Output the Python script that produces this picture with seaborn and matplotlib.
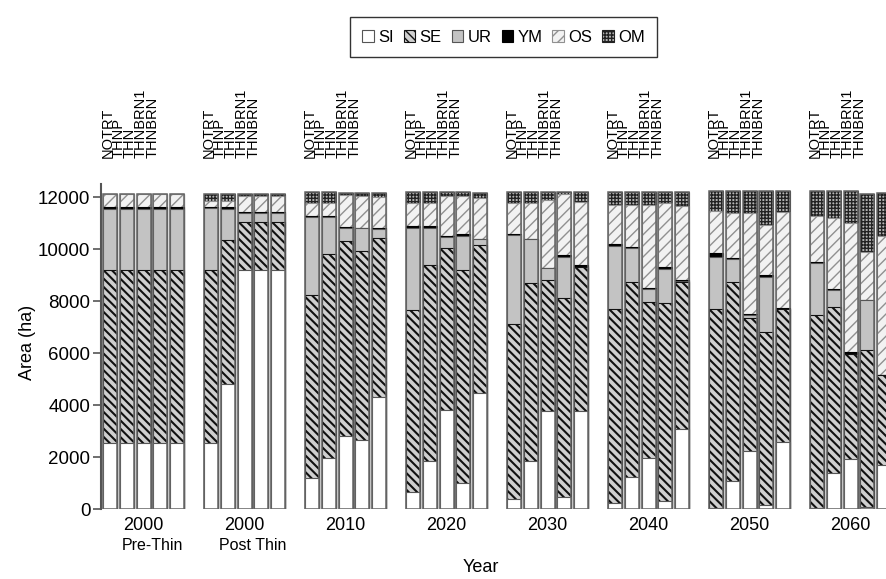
import numpy as np
import pandas as pd
import matplotlib
matplotlib.use('Agg')
import matplotlib.pyplot as plt
from matplotlib.patches import Patch
import seaborn as sns

# stand classes, bottom to top
classes = ['SI', 'SE', 'UR', 'YM', 'OS', 'OM']
treatments = ['NOTRT', 'THNP', 'THN', 'THNBRN1', 'THNBRN']
years = ['2000', '2000', '2010', '2020', '2030', '2040', '2050', '2060']
sublabels = ['Pre-Thin', 'Post Thin', '', '', '', '', '', '']

# area (ha) per class, one row per year group, one value per treatment
SI = [[2530, 2530, 2530, 2530, 2530],
      [2530, 4800, 9200, 9200, 9200],
      [1180, 1950, 2820, 2670, 4325],
      [670, 1860, 3810, 990, 4480],
      [370, 1860, 3770, 475, 3770],
      [220, 1220, 1960, 320, 3080],
      [40, 1080, 2245, 150, 2590],
      [40, 1375, 1910, 90, 1695]]
SE = [[6670, 6670, 6670, 6670, 6670],
      [6670, 5560, 1840, 1840, 1840],
      [7060, 7855, 7510, 7275, 6125],
      [6990, 7520, 6225, 8210, 5670],
      [6750, 6830, 5045, 7660, 5560],
      [7470, 7510, 6020, 7600, 5650],
      [7660, 7650, 5095, 6650, 5110],
      [7430, 6415, 4060, 6050, 3465]]
UR = [[2340, 2340, 2340, 2340, 2340],
      [2380, 1190, 345, 345, 345],
      [2990, 1425, 500, 860, 320],
      [3170, 1450, 445, 1310, 230],
      [3430, 1690, 450, 1580, 0],
      [2435, 1330, 490, 1320, 60],
      [2015, 885, 130, 2145, 0],
      [1990, 640, 0, 1925, 0]]
YM = [[80, 80, 80, 80, 80],
      [40, 70, 30, 30, 30],
      [50, 50, 30, 30, 30],
      [65, 50, 30, 60, 30],
      [30, 30, 30, 65, 50],
      [75, 30, 30, 90, 30],
      [130, 30, 30, 65, 50],
      [30, 30, 60, 0, 0]]
OS = [[495, 495, 495, 495, 495],
      [250, 250, 635, 635, 635],
      [510, 510, 1230, 1215, 1200],
      [895, 910, 1540, 1480, 1550],
      [1190, 1360, 2605, 2335, 2450],
      [1500, 1610, 3200, 2460, 2845],
      [1645, 1740, 3885, 1925, 3670],
      [1800, 2755, 4995, 1825, 5350]]
OM = [[0, 0, 0, 0, 0],
      [245, 245, 65, 65, 65],
      [410, 410, 90, 120, 150],
      [410, 410, 150, 150, 190],
      [430, 430, 300, 85, 370],
      [500, 500, 500, 410, 535],
      [750, 855, 855, 1305, 820],
      [950, 1025, 1215, 2240, 1640]]

styles = {
    'SI': dict(color='white', hatch=None, edge='#555555', hlw=1.0),
    'SE': dict(color='#cfcfcf', hatch='\\\\\\\\', edge='#111111', hlw=1.5),
    'UR': dict(color='#c3c3c3', hatch=None, edge='#555555', hlw=1.0),
    'YM': dict(color='black', hatch=None, edge='black', hlw=1.0),
    'OS': dict(color='#f2f2f2', hatch='///', edge='#909090', hlw=1.0),
    'OM': dict(color='#b5b5b5', hatch='+++++', edge='#222222', hlw=1.0),
}

rows = []
for g in range(len(years)):
    for i, t in enumerate(treatments):
        row = {'pos': g * 6 + i, 'group': g, 'treatment': t}
        for name, arr in zip(classes, [SI, SE, UR, YM, OS, OM]):
            row[name] = arr[g][i]
        rows.append(row)
df = pd.DataFrame(rows)
cum = df[classes].cumsum(axis=1)

plt.rcParams['font.family'] = ['Liberation Sans', 'DejaVu Sans']
plt.rcParams['hatch.linewidth'] = 1.0

fig = plt.figure(figsize=(8.87, 5.79), dpi=100)
ax = fig.add_axes([101.5 / 887, 1 - 509 / 579, 808 / 887, (509 - 184.3) / 579])

# stacked bars: draw the tallest cumulative layer first, lower ones on top
for name in classes[::-1]:
    st = styles[name]
    n_before = len(ax.patches)
    sns.barplot(x=df['pos'], y=cum[name], native_scale=True, width=0.84,
                color=st['color'], hatch=st['hatch'], edgecolor=st['edge'],
                linewidth=0.8, errorbar=None, saturation=1, ax=ax)
    for p in ax.patches[n_before:]:
        if hasattr(p, 'set_hatch_linewidth'):
            p.set_hatch_linewidth(st['hlw'])
# grey outline of each bar
sns.barplot(x=df['pos'], y=cum['OM'], native_scale=True, width=0.84,
            fill=False, edgecolor='#666666', linewidth=1.1, errorbar=None, ax=ax)

ax.set_xlim(-0.5, 47.5)
ax.set_ylim(0, 12500)
ax.set_yticks(range(0, 12001, 2000))
ax.set_xticks([g * 6 + 2 for g in range(len(years))])
ax.set_xticklabels(years)
ax.tick_params(axis='x', length=0, labelsize=13, pad=6)
ax.tick_params(axis='y', length=6, width=1.2, color='#555555', labelsize=13.5, pad=2)
for s in ['top', 'right', 'bottom']:
    ax.spines[s].set_visible(False)
ax.spines['left'].set_color('#555555')
ax.spines['left'].set_linewidth(1.5)
ax.set_xlabel('')
ax.set_ylabel('')

for g, sub in enumerate(sublabels):
    if sub:
        ax.text(g * 6 + 2.5, -0.112, sub, transform=ax.get_xaxis_transform(),
                ha='center', va='center', fontsize=11.5)

# treatment labels above each group
for g in range(len(years)):
    ax.text(g * 6 - 0.55, 1.08, '\n'.join(treatments),
            transform=ax.get_xaxis_transform(), rotation=90,
            ha='left', va='bottom', multialignment='left',
            fontsize=10.5, linespacing=0.74, clip_on=False)

fig.text(481 / 887, 1 - 568 / 579, 'Year', ha='center', va='center', fontsize=13)
fig.text(28 / 887, 1 - 342 / 579, 'Area (ha)', ha='center', va='center',
         rotation=90, fontsize=13)

handles = [Patch(facecolor=styles[c]['color'], hatch=styles[c]['hatch'],
                 edgecolor=styles[c]['edge'] if c in ('SE', 'OS', 'OM', 'YM') else '#555555',
                 linewidth=0.8, label=c) for c in classes]
fig.legend(handles=handles, loc='center', bbox_to_anchor=(503.5 / 887, 1 - 37 / 579),
           ncol=6, frameon=True, fancybox=False, edgecolor='black', fontsize=12,
           handlelength=0.7, handleheight=0.7, handletextpad=0.25,
           columnspacing=0.6, borderpad=0.75)

fig.savefig('out.png', dpi=100)
